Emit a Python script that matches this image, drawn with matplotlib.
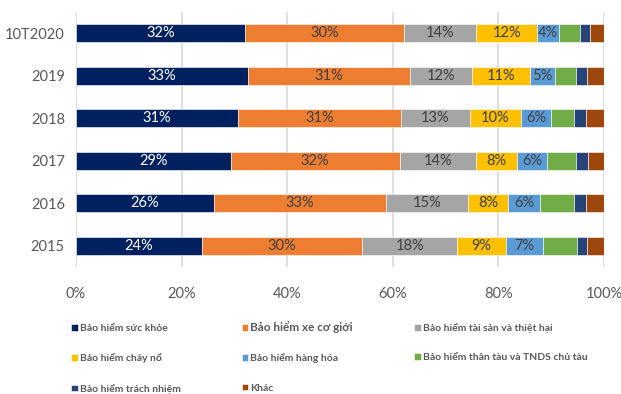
import numpy as np
import matplotlib
matplotlib.use("Agg")
import matplotlib.pyplot as plt

plt.rcParams['font.family'] = ['Lato', 'DejaVu Sans']

# Data (share of premium, %), rows top to bottom
years = ['10T2020', '2019', '2018', '2017', '2016', '2015']
series = ['Bảo hiểm sức khỏe', 'Bảo hiểm xe cơ giới', 'Bảo hiểm tài sản và thiệt hại',
          'Bảo hiểm cháy nổ', 'Bảo hiểm hàng hóa', 'Bảo hiểm thân tàu và TNDS chủ tàu',
          'Bảo hiểm trách nhiệm', 'Khác']
suc_khoe = [32.0, 32.6, 30.7, 29.3, 26.1, 23.8]
xe_co_gioi = [30.2, 30.6, 30.9, 32.0, 32.7, 30.4]
tai_san = [13.6, 11.8, 13.0, 14.4, 15.4, 18.0]
chay_no = [11.6, 10.9, 9.7, 7.9, 7.7, 9.2]
hang_hoa = [4.1, 4.8, 5.6, 5.6, 6.0, 7.1]
than_tau = [4.0, 4.0, 4.5, 5.5, 6.4, 6.3]
trach_nhiem = [1.9, 2.1, 2.2, 2.2, 2.2, 2.0]
khac = [2.6, 3.2, 3.4, 3.1, 3.5, 3.2]

values = [suc_khoe, xe_co_gioi, tai_san, chay_no, hang_hoa, than_tau, trach_nhiem, khac]
colors = ['#002060', '#ED7D31', '#A5A5A5', '#FFC000', '#5B9BD5', '#70AD47', '#264478', '#9E480E']
show_label = [True, True, True, True, True, False, False, False]

fig = plt.figure(figsize=(6.21, 3.94), dpi=100)
ax = fig.add_axes([0.1224, 0.322, 0.8502, 0.6475])

y = np.arange(len(years))
left = np.zeros(len(years))
handles = []
for name, vals, col, lab in zip(series, values, colors, show_label):
    vals = np.array(vals)
    bars = ax.barh(y, vals / 100, left=left / 100, height=0.42, color=col,
                   edgecolor='white', linewidth=0.4, label=name, zorder=3)
    handles.append(bars)
    if lab:
        tc = 'white' if col == '#002060' else '#404040'
        for yi, l, v in zip(y, left, vals):
            ax.text((l + v / 2) / 100, yi, f'{v:.0f}%', ha='center', va='center',
                    color=tc, fontsize=10.5, zorder=4)
    left += vals

ax.set_xlim(0, 1)
ax.set_ylim(-0.5, len(years) - 0.5)
ax.invert_yaxis()
ax.set_yticks(y)
ax.set_yticklabels(years)
ax.set_xticks(np.linspace(0, 1, 6))
ax.set_xticklabels([f'{int(t)}%' for t in np.linspace(0, 100, 6)])
ax.tick_params(length=0, colors='#595959', labelsize=10.5)
ax.tick_params(axis='x', pad=14)
ax.tick_params(axis='y', pad=8)
ax.grid(axis='x', color='#D9D9D9', linewidth=1.2, zorder=0)
for s in ax.spines.values():
    s.set_visible(False)

# legend filled row-wise like the reference
order = [0, 3, 6, 1, 4, 7, 2, 5]
leg = fig.legend([handles[i] for i in order], [series[i] for i in order],
                 ncol=3, loc='upper left', bbox_to_anchor=(0.115, 0.185),
                 frameon=False, fontsize=7.5, handlelength=0.6, handleheight=0.6,
                 handletextpad=0.2, columnspacing=5.9, labelspacing=1.95,
                 borderaxespad=0, borderpad=0)
for t in leg.get_texts():
    t.set_color('#595959')
    t.set_fontweight('bold')
    if t.get_text() == 'Bảo hiểm xe cơ giới':
        t.set_fontsize(8.5)

fig.savefig('out.png', dpi=100)
